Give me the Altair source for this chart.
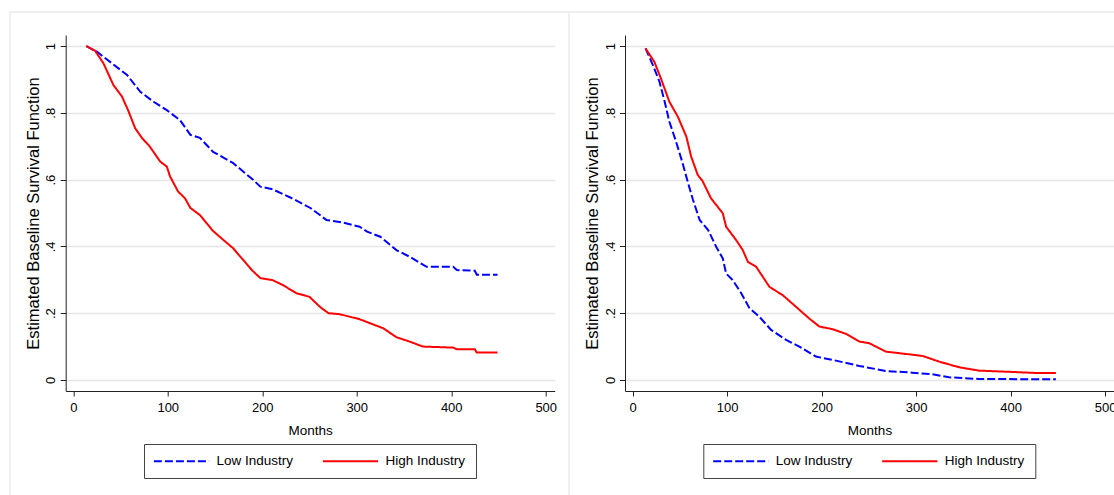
import altair as alt
import pandas as pd

# ---------------- data ----------------
series_names = ["Low Industry", "High Industry"]
month_ticks = [0, 100, 200, 300, 400, 500]
surv_ticks = [0, 0.2, 0.4, 0.6, 0.8, 1]

# Left panel
left_low_month = [13.7, 25, 41, 57, 71, 85, 99, 113, 124, 134,
                  148, 169, 190, 198, 211, 233, 251, 268, 286, 303,
                  311, 325, 342, 356, 374, 402, 406, 425, 427, 449]
left_low_surv = [1.0, .983, .948, .913, .863, .833, .808, .778, .734, .725,
                 .683, .65, .6, .579, .571, .542, .515, .479, .471, .459,
                 .444, .429, .389, .369, .339, .339, .329, .327, .315, .315]

left_high_month = [13.7, 23, 32, 42.5, 51.5, 58, 65.5, 72.6, 81, 92,
                   99, 102.5, 111, 118, 124, 134, 148, 159, 169, 180,
                   189, 198, 211, 222, 236, 250, 261, 270, 282, 303,
                   314, 328, 342, 356, 370, 402, 406, 425, 427, 449]
left_high_surv = [1.0, .986, .948, .883, .849, .808, .754, .725, .699, .654,
                  .639, .609, .564, .545, .515, .494, .446, .419, .395, .359,
                  .329, .305, .299, .284, .26, .249, .219, .2, .197, .182,
                  .17, .155, .128, .115, .1, .097, .092, .092, .082, .082]

# Right panel
right_low_month = [13.7, 21.5, 28.5, 34, 39, 46, 53, 58, 64, 71,
                   80, 88.5, 95.5, 99, 106, 115, 123.7, 134, 146.6, 162.5,
                   176.5, 194, 212, 240, 268, 296, 317.5, 335, 367, 448]
right_low_surv = [.993, .943, .893, .833, .773, .714, .649, .597, .539, .479,
                  .449, .399, .364, .319, .299, .26, .215, .19, .15, .12,
                  .10, .07, .06, .042, .027, .022, .017, .008, .003, .002]

right_high_month = [13.7, 23, 30, 39, 48, 57, 62, 69, 74, 83,
                    95.5, 99, 109.6, 116.6, 122, 130.8, 144.8, 158.9, 173, 187,
                    197.7, 211.8, 226, 240, 250.5, 268, 289, 307, 324.5, 345.7,
                    366.8, 402, 426.7, 448]
right_high_surv = [.993, .953, .903, .833, .788, .728, .669, .614, .596, .544,
                   .499, .459, .419, .389, .354, .339, .279, .254, .219, .184,
                   .16, .152, .138, .115, .11, .085, .078, .072, .055, .038,
                   .028, .024, .021, .021]

FONT = "Liberation Sans, Arial, Helvetica, sans-serif"
PLOT_W, PLOT_H = 489, 356


def make_df(low_m, low_s, high_m, high_s):
    a = pd.DataFrame({"month": low_m, "surv": low_s, "series": series_names[0]})
    b = pd.DataFrame({"month": high_m, "surv": high_s, "series": series_names[1]})
    return pd.concat([a, b], ignore_index=True)


def panel(df, with_frame=False):
    legend = alt.Legend(
        orient="none", legendX=78.3, legendY=409, direction="horizontal",
        title=None, strokeColor="#444444", fillColor="white", padding=10,
        symbolType="M-4.6,0H4.6", symbolSize=144, symbolStrokeWidth=2,
        symbolOffset=20.5, labelOffset=28, columnPadding=24,
        labelFont=FONT, labelFontSize=13.5, labelColor="#000000",
    )
    x = alt.X(
        "month:Q",
        scale=alt.Scale(domain=[-8, 509.5], nice=False, zero=False),
        axis=alt.Axis(
            values=month_ticks, format="d", title="Months", grid=False,
            domainColor="#222222", domainWidth=1, tickColor="#222222",
            tickSize=5, tickWidth=1, labelFont=FONT, labelFontSize=13,
            labelColor="#000000", labelPadding=5, labelFlush=False,
            labelOverlap=False, titleFont=FONT, titleFontSize=13.5,
            titleFontWeight="normal", titleColor="#000000", titleY=43,
            titleBaseline="alphabetic",
        ),
    )
    y = alt.Y(
        "surv:Q",
        scale=alt.Scale(domain=[-0.033, 1.033], nice=False, zero=False),
        axis=alt.Axis(
            values=surv_ticks, format=".1~f",
            labelExpr="replace(datum.label, '0.', '.')",
            title="Estimated Baseline Survival Function", grid=True,
            gridColor="#e6e6e6", gridWidth=1.5,
            domainColor="#222222", domainWidth=1, tickColor="#222222",
            tickSize=5.5, tickWidth=1, labelFont=FONT, labelFontSize=13,
            labelColor="#000000", labelAngle=270, labelAlign="center",
            labelBaseline="alphabetic", labelPadding=5.2, labelOverlap=False,
            titleFont=FONT, titleFontSize=16.5, titleFontWeight="normal",
            titleColor="#000000", titleAngle=270, titleAlign="center",
            titleBaseline="alphabetic", titleX=-27.4, titleY=PLOT_H / 2,
        ),
    )
    lines = alt.Chart(df).mark_line(strokeWidth=2).encode(
        x=x,
        y=y,
        color=alt.Color("series:N", sort=series_names,
                        scale=alt.Scale(domain=series_names, range=["#0000ff", "#ff0000"]),
                        legend=legend),
        strokeDash=alt.StrokeDash("series:N", sort=series_names,
                                  scale=alt.Scale(domain=series_names, range=[[8, 3], [1, 0]]),
                                  legend=legend),
    )
    layers = []
    if with_frame:
        one = pd.DataFrame({"k": [0]})
        frame_style = dict(color="#ebebeb", strokeWidth=1.5)
        top = alt.Chart(one).mark_rule(**frame_style).encode(
            x=alt.value(-55.7), x2=alt.value(1048.3), y=alt.value(-23))
        left_edge = alt.Chart(one).mark_rule(**frame_style).encode(
            x=alt.value(-55.7), y=alt.value(-23), y2=alt.value(460))
        mid_edge = alt.Chart(one).mark_rule(**frame_style).encode(
            x=alt.value(503.3), y=alt.value(-23), y2=alt.value(460))
        layers = [top, left_edge, mid_edge]
    return alt.layer(*layers, lines).properties(width=PLOT_W, height=PLOT_H)


left = panel(make_df(left_low_month, left_low_surv, left_high_month, left_high_surv), with_frame=True)
right = panel(make_df(right_low_month, right_low_surv, right_high_month, right_high_surv))

chart = (
    alt.hconcat(left, right, spacing=70.3, bounds="flush")
    .resolve_scale(color="independent", strokeDash="independent")
    .properties(
        autosize=alt.AutoSizeParams(type="none"),
        padding={"left": 65.7, "top": 35, "right": 1048.3, "bottom": 460},
        background="white",
    )
    .configure_view(strokeWidth=0)
)

chart.save("out.html", embed_options={"renderer": "svg", "actions": False})
